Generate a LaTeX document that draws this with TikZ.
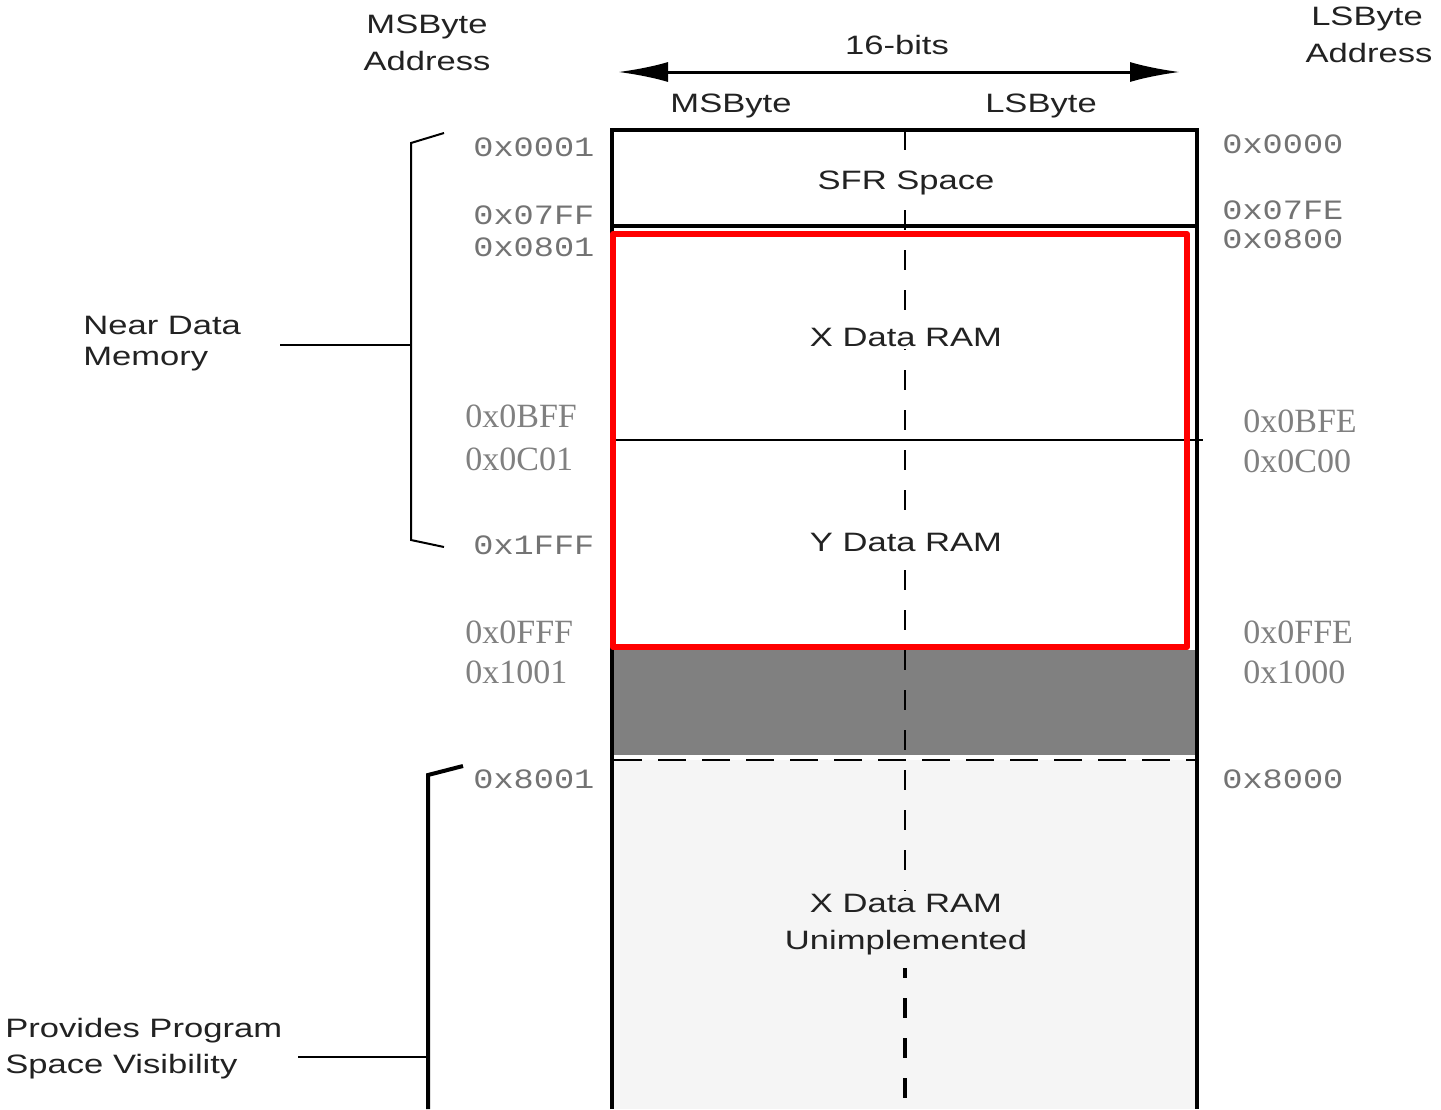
\documentclass[tikz,border=0pt]{standalone}
\usepackage{graphicx}
\usepackage{fontspec}
\setmainfont{Liberation Sans}
\newfontfamily\monof{Liberation Mono}
\newfontfamily\seriff{Liberation Serif}
\usetikzlibrary{arrows.meta}
\newcommand{\wsans}[1]{\scalebox{1.3}[1]{#1}}
\newcommand{\wmono}[1]{\scalebox{1.2}[1]{#1}}
\definecolor{txt}{HTML}{222222}
\definecolor{lightfill}{HTML}{F5F5F5}
\definecolor{blockgray}{HTML}{808080}
\tikzset{
  lbl/.style={font=\fontsize{13.3}{16}\selectfont, text=txt, inner sep=0pt, anchor=base},
  lblw/.style={lbl, anchor=base west},
  boxlbl/.style={lbl, inner sep=1.5pt},
  monolbl/.style={font=\monof\fontsize{14}{16}\selectfont, text=black!55, inner sep=0pt, anchor=base west},
  serlbl/.style={font=\seriff\fontsize{17}{20}\selectfont, text=black!50, inner sep=0pt, anchor=base west},
  wall/.style={line width=1.75pt, black},
  thinline/.style={line width=1pt, black},
  centerdash/.style={line width=1pt, black, dash pattern=on 10pt off 10pt},
  rowdash/.style={line width=1.2pt, black, dash pattern=on 14pt off 8pt},
  brace/.style={line width=1pt, black},
  bracethick/.style={line width=2pt, black},
  widtharrow/.style={line width=1.5pt, black, {Latex[length=25pt,width=10pt]}-{Latex[length=25pt,width=10pt]}},
  redbox/.style={line width=3pt, red, line join=round}
}
\begin{document}
\begin{tikzpicture}[x=0.5pt,y=-0.5pt]
\useasboundingbox (0,0) rectangle (1441,1109);
% fills
\fill[lightfill] (612,760) rectangle (1197,1109);
\fill[blockgray] (612,650) rectangle (1195,755);
% center dashed line
\draw[centerdash] (905,130) -- (905,965);
\draw[centerdash, line width=1.75pt, dash phase=5pt] (905,968) -- (905,1109);
% walls
\coordinate (tl) at (612,130);
\coordinate (tr) at (1197,130);
\coordinate (bl) at (612,1109);
\coordinate (br) at (1197,1109);
\draw[wall] (bl) -- (tl) -- (tr) -- (br);
\draw[wall] (612,226) -- (1197,226);
\draw[thinline] (612,440) -- (1203,440);
\draw[rowdash] (614,760) -- (1197,760);
% red highlight
\draw[redbox] (613,234) rectangle (1187,647);
% width arrow
\coordinate (al) at (618,72);
\coordinate (ar) at (1180,72);
\draw[widtharrow] (al) -- (ar);
\node[lbl] (bits) at (897,54) {\wsans{16-bits}};
\node[lbl] (msb) at (731,112) {\wsans{MSByte}};
\node[lbl] (lsb) at (1041,112) {\wsans{LSByte}};
% column heads
\node[lbl] (msa1) at (427,33) {\wsans{MSByte}};
\node[lbl] (msa2) at (427,70) {\wsans{Address}};
\node[lbl] (lsa1) at (1367,25) {\wsans{LSByte}};
\node[lbl] (lsa2) at (1369,62) {\wsans{Address}};
% region labels
\node[boxlbl, fill=white] (sfr) at (906,189) {\wsans{SFR Space}};
\node[boxlbl, fill=white] (xram) at (906,346) {\wsans{X Data RAM}};
\node[boxlbl, fill=white] (yram) at (906,551) {\wsans{Y Data RAM}};
\node[boxlbl, fill=lightfill] (xu1) at (906,912) {\wsans{X Data RAM}};
\node[boxlbl, fill=lightfill] (xu2) at (906,949) {\wsans{Unimplemented}};
% mono addresses left
\node[monolbl] (a0001) at (473,156) {\wmono{0x0001}};
\node[monolbl] (a07FF) at (473,224) {\wmono{0x07FF}};
\node[monolbl] (a0801) at (473,256) {\wmono{0x0801}};
\node[monolbl] (a1FFF) at (473,554) {\wmono{0x1FFF}};
\node[monolbl] (a8001) at (473,788) {\wmono{0x8001}};
% mono addresses right
\node[monolbl] (a0000) at (1222,153) {\wmono{0x0000}};
\node[monolbl] (a07FE) at (1222,219) {\wmono{0x07FE}};
\node[monolbl] (a0800) at (1222,248) {\wmono{0x0800}};
\node[monolbl] (a8000) at (1222,788) {\wmono{0x8000}};
% serif addresses
\node[serlbl] (s0BFF) at (465,427) {0x0BFF};
\node[serlbl] (s0C01) at (465,470) {0x0C01};
\node[serlbl] (s0FFF) at (465,643) {0x0FFF};
\node[serlbl] (s1001) at (465,683) {0x1001};
\node[serlbl] (s0BFE) at (1243,432) {0x0BFE};
\node[serlbl] (s0C00) at (1243,472) {0x0C00};
\node[serlbl] (s0FFE) at (1243,643) {0x0FFE};
\node[serlbl] (s1000) at (1243,683) {0x1000};
% near data memory brace
\coordinate (b1t) at (444,133);
\coordinate (b1a) at (411,143);
\coordinate (b1m) at (411,345);
\coordinate (b1b) at (411,540);
\coordinate (b1e) at (444,547);
\draw[brace] (b1t) -- (b1a) -- (b1b) -- (b1e);
\node[lblw] (near1) at (83,334) {\wsans{Near Data}};
\node[lblw] (near2) at (83,365) {\wsans{Memory}};
\coordinate (nearlead) at (280,345);
\draw[brace] (nearlead) -- (b1m);
% program space brace
\coordinate (b2t) at (463,766);
\coordinate (b2a) at (428,775);
\coordinate (b2m) at (428,1057);
\coordinate (b2b) at (428,1109);
\draw[bracethick] (b2t) -- (b2a) -- (b2b);
\node[lblw] (prov1) at (5,1037) {\wsans{Provides Program}};
\node[lblw] (prov2) at (5,1073) {\wsans{Space Visibility}};
\coordinate (provlead) at (298,1057);
\draw[brace] (provlead) -- (b2m);
\end{tikzpicture}
\end{document}
